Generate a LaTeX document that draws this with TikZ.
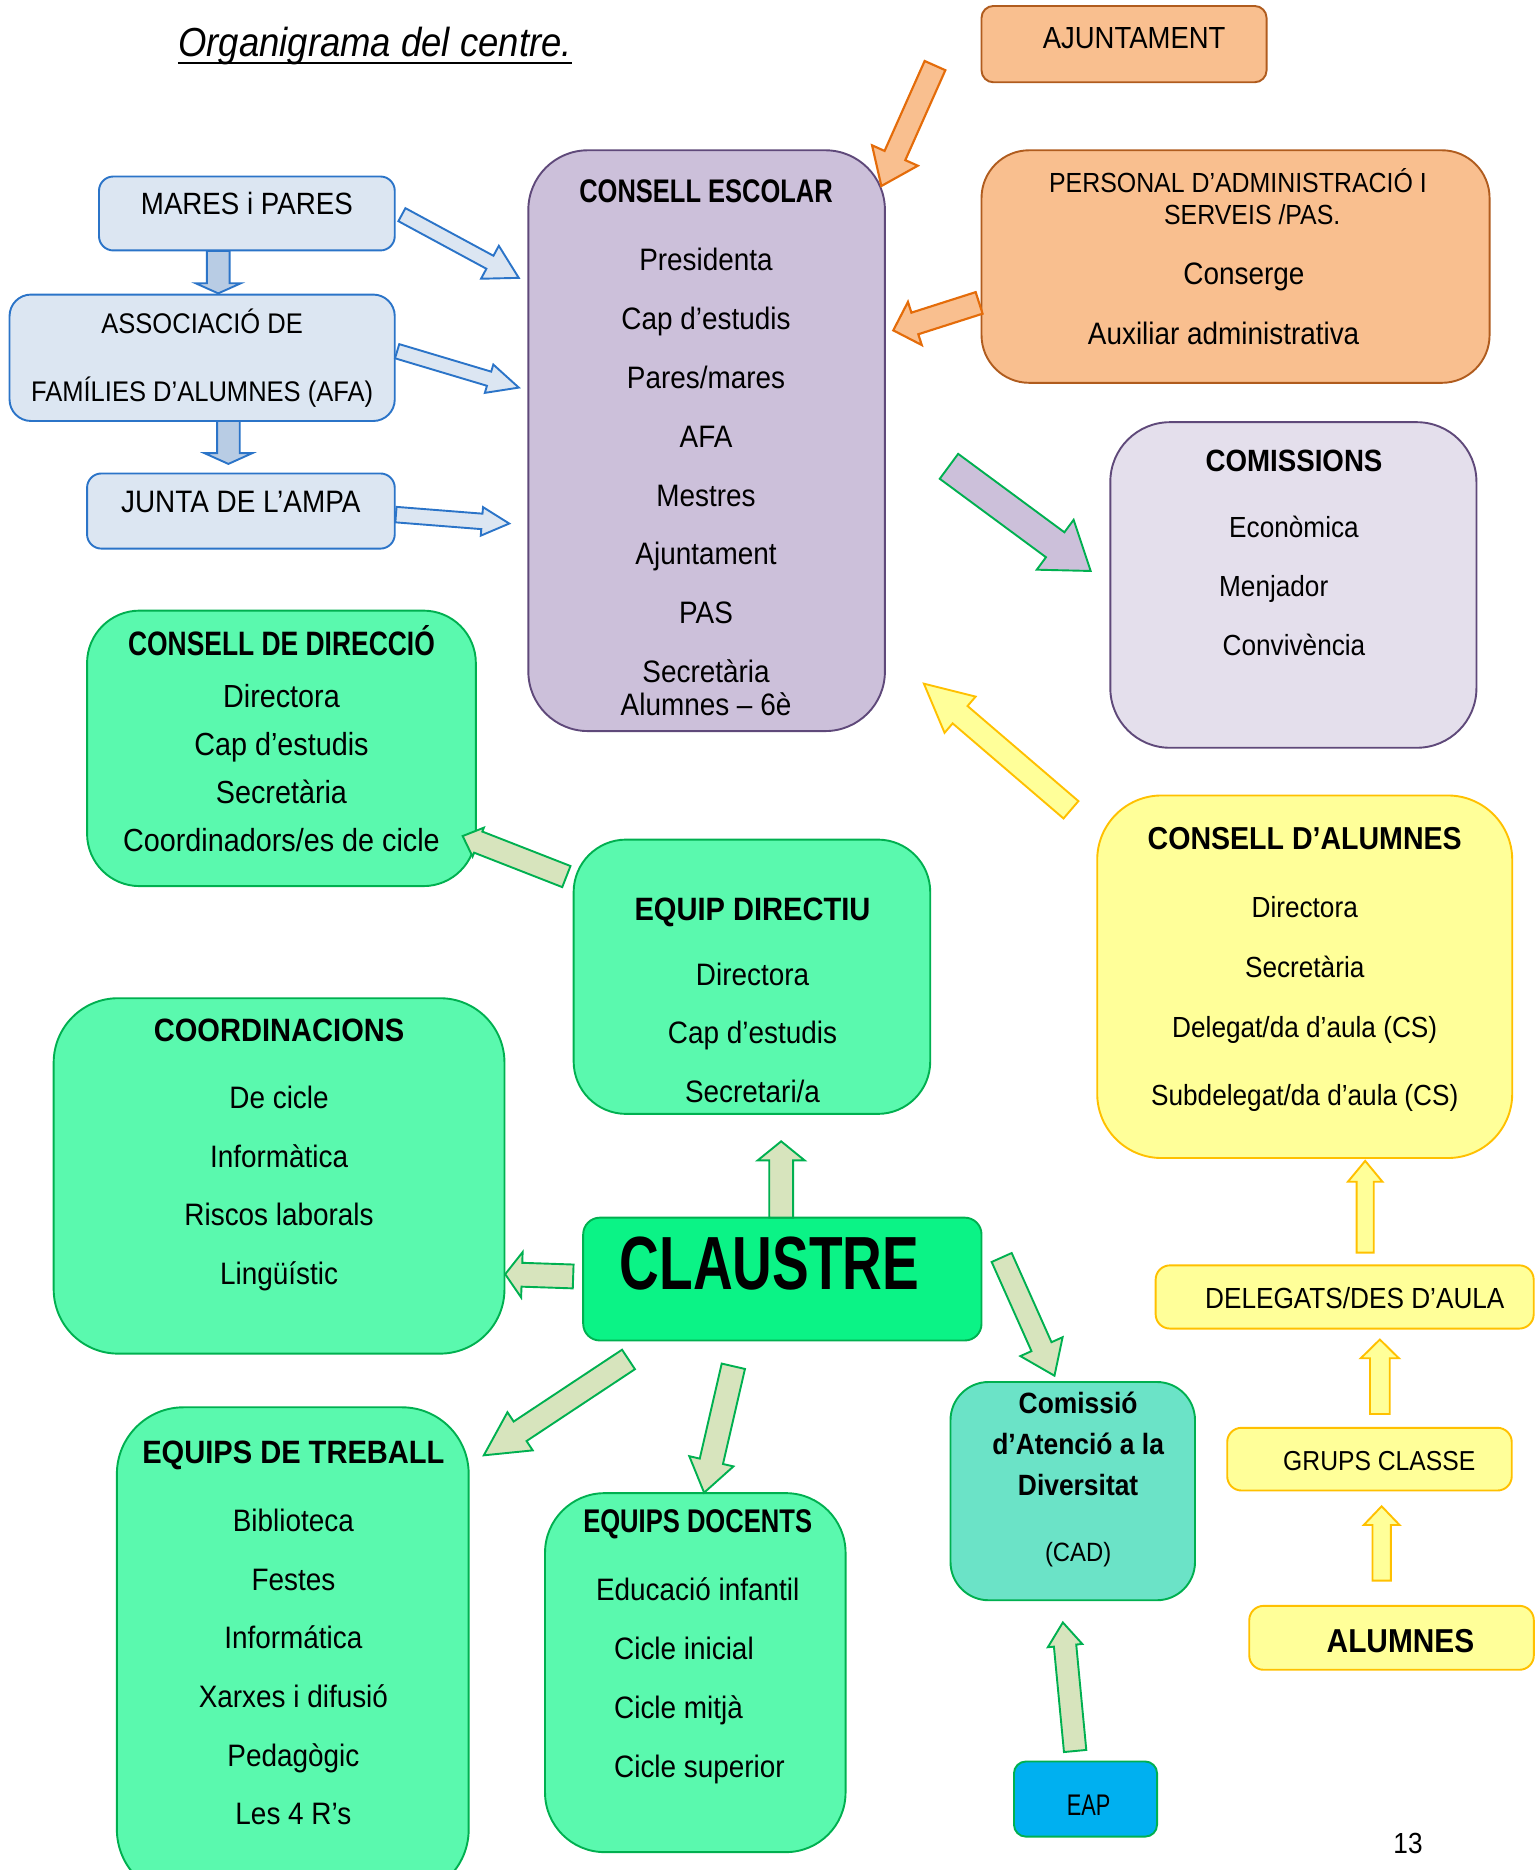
\documentclass[tikz,border=0pt]{standalone}
\usepackage{fontspec}
\setmainfont{Liberation Sans}[FakeStretch=0.9]
\newfontfamily\condfont{Liberation Sans}[FakeStretch=0.78]
\newfontfamily\narrowfont{Liberation Sans}[FakeStretch=0.73]
\usepackage{tikz}
\usetikzlibrary{calc}
\definecolor{bluefill}{HTML}{DCE6F2}
\definecolor{bluedraw}{HTML}{2B74C8}
\definecolor{bluedown}{HTML}{B8CCE4}
\definecolor{orfill}{HTML}{F9BF8F}
\definecolor{ordraw}{HTML}{B05C1E}
\definecolor{orarrow}{HTML}{E46C0A}
\definecolor{lilac}{HTML}{CCC0DA}
\definecolor{lilacpale}{HTML}{E4DFEC}
\definecolor{purpledraw}{HTML}{5F497A}
\definecolor{mint}{HTML}{5AF9AE}
\definecolor{greendraw}{HTML}{00B050}
\definecolor{claustrefill}{HTML}{0BF386}
\definecolor{cadfill}{HTML}{6BE3C7}
\definecolor{eapfill}{HTML}{00B0F0}
\definecolor{yfill}{HTML}{FFFF99}
\definecolor{ydraw}{HTML}{FFC000}
\definecolor{sage}{HTML}{D7E4BD}

\newcommand{\condhead}[2]{{\condfont\bfseries\fontsize{#1}{#1}\selectfont #2}}
\newcommand{\boldhead}[2]{{\bfseries\fontsize{#1}{#1}\selectfont #2}}
% block arrow: [style]{from}{to}{half shaft}{half head}{head length}
\newcommand{\fatarrow}[6][]{%
  \draw[#1] let \p1=($(#3)-(#2)$), \n1={atan2(\y1,\x1)}, \n2={veclen(\x1,\y1)} in
    [shift={(#2)}, rotate=\n1]
    (0pt,#4) -- ({\n2-#6},#4) -- ({\n2-#6},#5) -- ({\n2+0pt},0pt)
    -- ({\n2-#6},-#5) -- ({\n2-#6},-#4) -- (0pt,-#4) -- cycle;}

\tikzset{
  box/.style={draw, line width=0.8pt, inner sep=0pt},
  lines/.style={align=center, inner sep=0pt},
  word/.style={anchor=base, inner sep=0pt},
  bluearrow/.style={fill=bluefill, draw=bluedraw, line width=0.8pt},
  bluedownarrow/.style={fill=bluedown, draw=bluedraw, line width=0.8pt},
  orangearrow/.style={fill=orfill, draw=orarrow, line width=0.9pt},
  lilacarrow/.style={fill=lilac, draw=greendraw, line width=0.8pt},
  yellowarrow/.style={fill=yfill, draw=ydraw, line width=0.8pt},
  sagearrow/.style={fill=sage, draw=greendraw, line width=0.8pt}
}

\begin{document}
\begin{tikzpicture}[x=0.5pt, y=-0.5pt]
  \useasboundingbox (0,0) rectangle (1287,1568);

  % title
  \node[word, font=\itshape\fontsize{17}{17}\selectfont] (title) at (314.5,47) {Organigrama del centre.};
  \draw[line width=0.9pt] ([yshift=-2.8pt]title.base west) -- ([yshift=-2.8pt]title.base east);

  % families
  \node[box, fill=bluefill, draw=bluedraw, minimum width=124pt, minimum height=31pt, rounded corners=6pt] (mares) at (207,179) {};
  \node[word, font=\fontsize{12.9}{12.9}\selectfont] (mares-txt) at (207,179.7) {MARES i PARES};
  \node[box, fill=bluefill, draw=bluedraw, minimum width=161.5pt, minimum height=53pt, rounded corners=9pt] (afa) at (169.5,300) {};
  \node[lines, font=\fontsize{11.9}{28.45}\selectfont] (afa-txt) at (169.5,300.5) {ASSOCIACIÓ DE\\FAMÍLIES D’ALUMNES (AFA)};
  \node[box, fill=bluefill, draw=bluedraw, minimum width=129pt, minimum height=31.5pt, rounded corners=6pt] (junta) at (202,428.5) {};
  \node[word, font=\fontsize{13}{13}\selectfont] (junta-txt) at (201.9,429.7) {JUNTA DE L’AMPA};

  % consell escolar
  \node[box, fill=lilac, draw=purpledraw, minimum width=149.5pt, minimum height=243.5pt, rounded corners=25pt] (escolar) at (592.5,369.5) {};
  \node[lines, font=\fontsize{13}{24.64}\selectfont] (escolar-txt) at (592,375.75)
    {\condhead{13.7}{CONSELL ESCOLAR}\\[3.9pt]Presidenta\\Cap d’estudis\\Pares/mares\\AFA\\Mestres\\Ajuntament\\PAS\\Secretària\\[-10.6pt]Alumnes – 6è};

  % ajuntament and PAS
  \node[box, fill=orfill, draw=ordraw, minimum width=119.5pt, minimum height=32pt, rounded corners=5pt] (ajuntament) at (942.5,37) {};
  \node[word, font=\fontsize{12.8}{12.8}\selectfont] (ajuntament-txt) at (951,40.6) {AJUNTAMENT};
  \node[box, fill=orfill, draw=ordraw, minimum width=213pt, minimum height=97.5pt, rounded corners=20pt] (personal) at (1036,223.5) {};
  \node[lines, font=\fontsize{13}{25}\selectfont] (personal-txt) at (1038,215.2)
    {{\fontsize{11.6}{11.6}\selectfont PERSONAL D’ADMINISTRACIÓ I}\\[-11.6pt]{\fontsize{11.6}{11.6}\selectfont\hspace*{12pt}SERVEIS /PAS.}\\\hspace*{5pt}Conserge\\Auxiliar administrativa\hspace*{12pt}};

  % comissions
  \node[box, fill=lilacpale, draw=purpledraw, minimum width=153.5pt, minimum height=136.5pt, rounded corners=25pt] (comissions) at (1084.5,490.5) {};
  \node[lines, font=\fontsize{12.2}{24.75}\selectfont] (comissions-txt) at (1085,463.8)
    {\boldhead{12.9}{COMISSIONS}\\[2.75pt]Econòmica\\Menjador\hspace*{17pt}\null\\Convivència};

  % direccio
  \node[box, fill=mint, draw=greendraw, minimum width=163pt, minimum height=115.5pt, rounded corners=22pt] (direccio) at (236,627.5) {};
  \node[lines, font=\fontsize{13.4}{20.17}\selectfont] (direccio-txt) at (236,619.5)
    {\condhead{14.2}{CONSELL DE DIRECCIÓ}\\[1.33pt]Directora\\Cap d’estudis\\Secretària\\Coordinadors/es de cicle};
  \node[box, fill=mint, draw=greendraw, minimum width=149.5pt, minimum height=115pt, rounded corners=22pt] (directiu) at (630.5,819) {};
  \node[lines, font=\fontsize{13}{24.5}\selectfont] (directiu-txt) at (631,838.8)
    {\boldhead{13.55}{EQUIP DIRECTIU}\\[2.5pt]Directora\\Cap d’estudis\\Secretari/a};

  % alumnes
  \node[box, fill=yfill, draw=ydraw, minimum width=174pt, minimum height=152pt, rounded corners=27pt] (consellal) at (1094,819) {};
  \node[lines, font=\fontsize{12.2}{25.25}\selectfont] (consellal-txt) at (1094,812.7)
    {\boldhead{13.3}{CONSELL D’ALUMNES}\\[3.25pt]Directora\\Secretària\\Delegat/da d’aula (CS)\\[3.25pt]Subdelegat/da d’aula (CS)};
  \node[box, fill=yfill, draw=ydraw, minimum width=158.5pt, minimum height=26.5pt, rounded corners=6pt] (delegats) at (1127.5,1087.5) {};
  \node[word, font=\fontsize{12.2}{12.2}\selectfont] (delegats-txt) at (1136,1097) {DELEGATS/DES D’AULA};
  \node[box, fill=yfill, draw=ydraw, minimum width=119.3pt, minimum height=26.3pt, rounded corners=6pt] (grups) at (1148.3,1223.5) {};
  \node[word, font=\fontsize{11.5}{11.5}\selectfont] (grups-txt) at (1156.5,1232.8) {GRUPS CLASSE};
  \node[box, fill=yfill, draw=ydraw, minimum width=119.3pt, minimum height=26.8pt, rounded corners=6pt] (alumnes) at (1166.8,1373.3) {};
  \node[word, font=\bfseries\fontsize{13.9}{13.9}\selectfont] (alumnes-txt) at (1174.3,1385.4) {ALUMNES};

  % claustre
  \node[box, fill=mint, draw=greendraw, minimum width=189pt, minimum height=149pt, rounded corners=27pt] (coord) at (234,986) {};
  \node[lines, font=\fontsize{13}{24.67}\selectfont] (coord-txt) at (234,968.5)
    {\boldhead{13.55}{COORDINACIONS}\\[3.33pt]De cicle\\Informàtica\\Riscos laborals\\Lingüístic};
  \node[box, fill=claustrefill, draw=greendraw, minimum width=167pt, minimum height=51.5pt, rounded corners=7pt] (claustre) at (656,1072.5) {};
  \node[word, font=\narrowfont\bfseries\fontsize{31.6}{31.6}\selectfont] (claustre-txt) at (645.3,1081.3) {CLAUSTRE};
  \node[box, fill=mint, draw=greendraw, minimum width=147.5pt, minimum height=205pt, rounded corners=28pt] (treball) at (245.5,1385) {};
  \node[lines, font=\fontsize{13}{24.6}\selectfont] (treball-txt) at (246,1369.3)
    {\boldhead{13.55}{EQUIPS DE TREBALL}\\[3.9pt]Biblioteca\\Festes\\Informática\\Xarxes i difusió\\Pedagògic\\Les 4 R’s};
  \node[box, fill=mint, draw=greendraw, minimum width=126pt, minimum height=150.5pt, rounded corners=25pt] (docents) at (583,1402.5) {};
  \node[lines, font=\fontsize{13}{24.67}\selectfont] (docents-txt) at (585,1381)
    {\condhead{13.75}{EQUIPS DOCENTS}\\[3.83pt]Educació infantil\\\makebox[70pt][l]{Cicle inicial}\\\makebox[70pt][l]{Cicle mitjà}\\\makebox[70pt][l]{Cicle superior}};
  \node[box, fill=cadfill, draw=greendraw, minimum width=102.5pt, minimum height=91.5pt, rounded corners=16pt] (cad) at (899.5,1250.3) {};
  \node[lines, font=\bfseries\fontsize{12.3}{17.25}\selectfont] (cad-txt) at (904,1240.6)
    {Comissió\\d’Atenció a la\\Diversitat\\[10.25pt]{\mdseries\fontsize{11.1}{11.1}\selectfont(CAD)}};
  \node[box, fill=eapfill, draw=greendraw, minimum width=60pt, minimum height=31.5pt, rounded corners=5pt] (eap) at (910.2,1508.5) {};
  \node[word, font=\narrowfont\fontsize{12.5}{12.5}\selectfont] (eap-txt) at (912.8,1522.4) {EAP};

  \node[word, font=\fontsize{12.2}{12.2}\selectfont] (page) at (1180.6,1554.5) {13};

  % arrow ends
  \coordinate (mares-out) at (337,180);
  \coordinate (escolar-in1) at (435,233);
  \coordinate (afa-out) at (333,294.5);
  \coordinate (escolar-in2) at (435,325);
  \coordinate (junta-out) at (332,431.5);
  \coordinate (escolar-in3) at (427,439);
  \coordinate (mares-down) at (183,210.5);
  \coordinate (afa-in) at (183,246);
  \coordinate (afa-down) at (191.5,353);
  \coordinate (junta-in) at (191.5,389);
  \coordinate (ajuntament-out) at (784,55);
  \coordinate (escolar-in4) at (739,156);
  \coordinate (personal-out) at (821,254);
  \coordinate (escolar-in5) at (749,277);
  \coordinate (escolar-out) at (795.7,391);
  \coordinate (comissions-in) at (914.6,478.8);
  \coordinate (consellal-out) at (898,679);
  \coordinate (escolar-in6) at (774.4,573);
  \coordinate (delegats-out) at (1144.7,1050.3);
  \coordinate (consellal-in) at (1144.7,973.4);
  \coordinate (grups-out) at (1157,1185.6);
  \coordinate (delegats-in) at (1157,1123.2);
  \coordinate (alumnes-out) at (1158.5,1325.4);
  \coordinate (grups-in) at (1158.5,1263);
  \coordinate (directiu-out) at (474.9,735);
  \coordinate (direccio-in) at (387.9,701);
  \coordinate (claustre-n) at (655,1021);
  \coordinate (directiu-in) at (655,957);
  \coordinate (claustre-w) at (480.6,1070.3);
  \coordinate (coord-in) at (423.6,1068.4);
  \coordinate (claustre-sw) at (527,1139.9);
  \coordinate (treball-in) at (405.5,1220.4);
  \coordinate (claustre-s) at (614.9,1145.6);
  \coordinate (docents-in) at (590.4,1251.6);
  \coordinate (claustre-se) at (839.9,1054.4);
  \coordinate (cad-in) at (884.2,1153.6);
  \coordinate (eap-out) at (901.5,1468.2);
  \coordinate (cad-in2) at (891.2,1360.4);

  % arrows
  \fatarrow[bluearrow]{mares-out}{escolar-in1}{3.1pt}{7.85pt}{13.75pt}
  \fatarrow[bluearrow]{afa-out}{escolar-in2}{3.1pt}{6.2pt}{13pt}
  \fatarrow[bluearrow]{junta-out}{escolar-in3}{3.25pt}{6pt}{11.5pt}
  \fatarrow[bluedownarrow]{mares-down}{afa-in}{4.75pt}{9.5pt}{4.25pt}
  \fatarrow[bluedownarrow]{afa-down}{junta-in}{4.75pt}{10pt}{4.5pt}
  \fatarrow[orangearrow]{ajuntament-out}{escolar-in4}{4.75pt}{10.5pt}{14pt}
  \fatarrow[orangearrow]{personal-out}{escolar-in5}{4.75pt}{9.5pt}{9.5pt}
  \fatarrow[lilacarrow]{escolar-out}{comissions-in}{6.5pt}{13pt}{18.5pt}
  \fatarrow[yellowarrow]{consellal-out}{escolar-in6}{4.8pt}{10pt}{20pt}
  \fatarrow[yellowarrow]{delegats-out}{consellal-in}{3.6pt}{7.25pt}{8.75pt}
  \fatarrow[yellowarrow]{grups-out}{delegats-in}{4.15pt}{8pt}{7.85pt}
  \fatarrow[yellowarrow]{alumnes-out}{grups-in}{3.85pt}{7.5pt}{7.85pt}
  \fatarrow[sagearrow]{directiu-out}{direccio-in}{4.75pt}{6.5pt}{7pt}
  \fatarrow[sagearrow]{claustre-n}{directiu-in}{5pt}{9.85pt}{8pt}
  \fatarrow[sagearrow]{claustre-w}{coord-in}{5pt}{9.5pt}{7pt}
  \fatarrow[sagearrow]{claustre-sw}{treball-in}{4.9pt}{9.6pt}{18.25pt}
  \fatarrow[sagearrow]{claustre-s}{docents-in}{5pt}{9.5pt}{13.5pt}
  \fatarrow[sagearrow]{claustre-se}{cad-in}{4.6pt}{9.7pt}{13.35pt}
  \fatarrow[sagearrow]{eap-out}{cad-in2}{4.7pt}{7.25pt}{9.75pt}
\end{tikzpicture}
\end{document}
